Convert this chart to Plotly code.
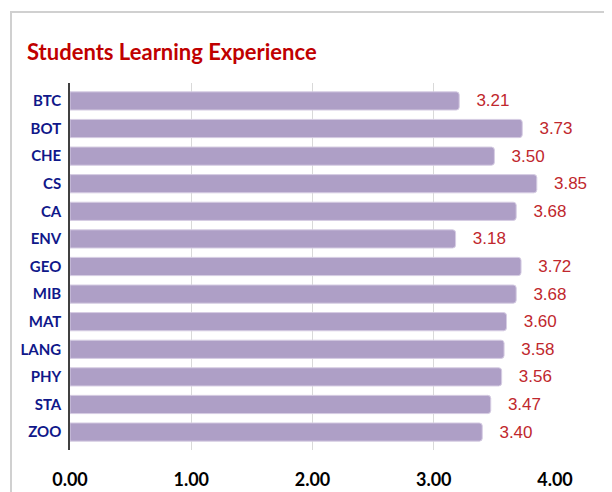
import plotly.graph_objects as go

categories = ["BTC", "BOT", "CHE", "CS", "CA", "ENV", "GEO", "MIB", "MAT", "LANG", "PHY", "STA", "ZOO"]
scores = [3.21, 3.73, 3.50, 3.85, 3.68, 3.18, 3.72, 3.68, 3.60, 3.58, 3.56, 3.47, 3.40]
tick_vals = [0, 1, 2, 3, 4]
tick_text = ["0.00", "1.00", "2.00", "3.00", "4.00"]

# the page body has an 8px margin, so the figure is 8px smaller than the window
W, H = 604, 484
L, R, T, B = 62, 57, 75, 42
pw, ph = W - L - R, H - T - B
HUMANIST = "Lato, Open Sans, sans-serif"
NARROW = "Liberation Sans, Arial, sans-serif"

fig = go.Figure(go.Bar(
    x=scores, y=categories, orientation="h",
    marker=dict(color="#ae9fc6", line=dict(color="#d6cde3", width=1), cornerradius=3),
    text=["   " + f"{v:.2f}" for v in scores],
    textposition="outside", cliponaxis=False, constraintext="none",
    textfont=dict(family=NARROW, size=17, color="#c0272d"),
    hoverinfo="skip",
))

fig.update_layout(
    width=W, height=H,
    margin=dict(l=L, r=R, t=T, b=B, autoexpand=False),
    paper_bgcolor="white", plot_bgcolor="white",
    bargap=0.34,
    showlegend=False,
    title=dict(text="Students Learning Experience", xref="container", yref="container",
               x=19 / W, xanchor="left", y=1 - 44 / H, yanchor="middle",
               font=dict(family=HUMANIST, size=22, color="#c00000", weight="bold")),
    shapes=[dict(type="rect", xref="paper", yref="paper",
                 x0=(3 - L) / pw, x1=(600 - L) / pw,
                 y0=-0.3, y1=(H - B - 4) / ph,
                 line=dict(color="#d0d0d0", width=2), layer="below")],
)

fig.update_xaxes(range=[0, 4], tickvals=tick_vals, ticktext=tick_text, automargin=False,
                 showgrid=True, gridcolor="#d9d9d9", gridwidth=1, zeroline=False,
                 showline=False, ticks="", ticklabelstandoff=17,
                 tickfont=dict(family=HUMANIST, size=18, color="#000000", weight="bold"))
fig.update_yaxes(range=[12.65, -0.65], automargin=False, showgrid=False, showline=True,
                 linecolor="#404040", linewidth=1.5, ticks="", ticklabelstandoff=4,
                 tickfont=dict(family=HUMANIST, size=15, color="#10188a", weight="bold"))

fig.write_html("out.html")
